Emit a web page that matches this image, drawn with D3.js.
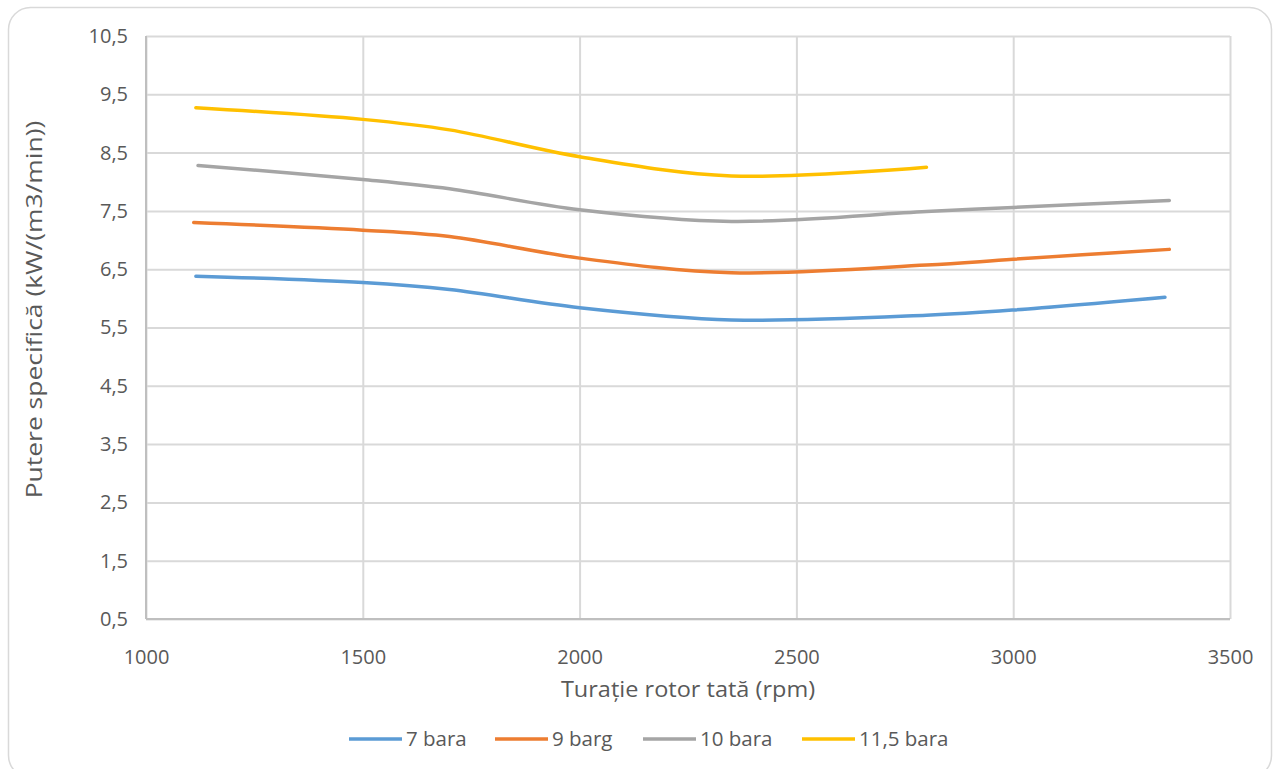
<!DOCTYPE html>
<html>
<head>
<meta charset="utf-8">
<script src="https://cdn.jsdelivr.net/npm/d3@7"></script>
<style>
  html, body { margin: 0; padding: 0; background: #fff; }
  svg { display: block; font-family: "Open Sans", sans-serif; }
</style>
</head>
<body>
<svg id="chart" width="1274" height="769"></svg>
<script>
// Specific power vs. male rotor speed, one series per discharge pressure
const seriesNames = ["7 bara", "9 barg", "10 bara", "11,5 bara"];
const seriesColors = ["#5b9bd5", "#ed7d31", "#a5a5a5", "#ffc000"];

const rpm7   = [1115, 1500, 1700, 2000, 2350, 2800, 3000, 3350];
const val7   = [6.38, 6.27, 6.15, 5.84, 5.63, 5.71, 5.80, 6.02];

const rpm9   = [1110, 1500, 1700, 2000, 2350, 2800, 3000, 3360];
const val9   = [7.30, 7.17, 7.06, 6.69, 6.44, 6.57, 6.67, 6.84];

const rpm10  = [1120, 1500, 1700, 2000, 2350, 2800, 3000, 3360];
const val10  = [8.28, 8.04, 7.88, 7.52, 7.32, 7.49, 7.56, 7.68];

const rpm115 = [1115, 1500, 1700, 2000, 2350, 2800];
const val115 = [9.27, 9.07, 8.89, 8.43, 8.10, 8.25];

const xTicks = [1000, 1500, 2000, 2500, 3000, 3500];
const yTicks = [0.5, 1.5, 2.5, 3.5, 4.5, 5.5, 6.5, 7.5, 8.5, 9.5, 10.5];

const xTitle = "Turație rotor tată (rpm)";
const yTitle = "Putere specifică (kW/(m3/min))";

const series = [
  { name: seriesNames[0], color: seriesColors[0], xs: rpm7,   ys: val7 },
  { name: seriesNames[1], color: seriesColors[1], xs: rpm9,   ys: val9 },
  { name: seriesNames[2], color: seriesColors[2], xs: rpm10,  ys: val10 },
  { name: seriesNames[3], color: seriesColors[3], xs: rpm115, ys: val115 }
];

const svg = d3.select("#chart");
const plot = { left: 146, right: 1230, top: 36, bottom: 619 };
const fmt = d => d.toString().replace(".", ",");
const textColor = "#595959";
const gridColor = "#d9d9d9";

// card outline
svg.append("rect")
  .attr("x", 8.5).attr("y", 7.5)
  .attr("width", 1263).attr("height", 770)
  .attr("rx", 22).attr("ry", 22)
  .attr("fill", "#fff")
  .attr("stroke", "#d9d9d9").attr("stroke-width", 1.5);

const x = d3.scaleLinear().domain([1000, 3500]).range([plot.left, plot.right]);
const y = d3.scaleLinear().domain([0.5, 10.5]).range([plot.bottom, plot.top]);

// gridlines
svg.append("g")
  .attr("transform", `translate(0,${plot.bottom})`)
  .call(d3.axisBottom(x).tickValues(xTicks).tickSize(-(plot.bottom - plot.top)).tickFormat(""))
  .call(g => g.select(".domain").remove())
  .call(g => g.selectAll("line").attr("stroke", gridColor).attr("stroke-width", 2));

svg.append("g")
  .attr("transform", `translate(${plot.left},0)`)
  .call(d3.axisLeft(y).tickValues(yTicks).tickSize(-(plot.right - plot.left)).tickFormat(""))
  .call(g => g.select(".domain").remove())
  .call(g => g.selectAll("line").attr("stroke", gridColor).attr("stroke-width", 2));

// axis lines
svg.append("line")
  .attr("x1", plot.left).attr("x2", plot.left)
  .attr("y1", plot.top).attr("y2", plot.bottom)
  .attr("stroke", "#bfbfbf").attr("stroke-width", 2);
svg.append("line")
  .attr("x1", plot.left).attr("x2", plot.right)
  .attr("y1", plot.bottom).attr("y2", plot.bottom)
  .attr("stroke", "#bfbfbf").attr("stroke-width", 2);

// tick labels
svg.append("g")
  .attr("transform", `translate(0,${plot.bottom})`)
  .call(d3.axisBottom(x).tickValues(xTicks).tickSize(0).tickPadding(31).tickFormat(d => d))
  .call(g => g.select(".domain").remove())
  .call(g => g.selectAll("text")
    .attr("fill", textColor).attr("font-size", 20).attr("font-family", "Open Sans, sans-serif"));

svg.append("g")
  .attr("transform", `translate(${plot.left},0)`)
  .call(d3.axisLeft(y).tickValues(yTicks).tickSize(0).tickPadding(18).tickFormat(fmt))
  .call(g => g.select(".domain").remove())
  .call(g => g.selectAll("text")
    .attr("fill", textColor).attr("font-size", 20).attr("font-family", "Open Sans, sans-serif"));

// axis titles (stretched along the reading direction)
svg.append("text")
  .attr("transform", `translate(${(plot.left + plot.right) / 2},697) scale(1.12,1)`)
  .attr("text-anchor", "middle")
  .attr("fill", textColor).attr("font-size", 21)
  .text(xTitle);

svg.append("text")
  .attr("transform", `translate(42,${(plot.top + plot.bottom) / 2 - 18}) rotate(-90) scale(1.26,1)`)
  .attr("text-anchor", "middle")
  .attr("fill", textColor).attr("font-size", 21)
  .text(yTitle);

// series curves
const line = d3.line()
  .x(d => x(d[0]))
  .y(d => y(d[1]))
  .curve(d3.curveCatmullRom.alpha(0.5));

svg.append("g").selectAll("path")
  .data(series)
  .join("path")
  .attr("d", s => line(s.xs.map((v, i) => [v, s.ys[i]])))
  .attr("fill", "none")
  .attr("stroke", s => s.color)
  .attr("stroke-width", 3.5)
  .attr("stroke-linecap", "round");

// legend
const legendX = [349, 495, 643, 802];
const legend = svg.append("g").selectAll("g")
  .data(series)
  .join("g")
  .attr("transform", (s, i) => `translate(${legendX[i]},739)`);
legend.append("line")
  .attr("x1", 0).attr("x2", 53)
  .attr("stroke", s => s.color).attr("stroke-width", 3.5);
legend.append("text")
  .attr("x", 57).attr("dy", "0.35em")
  .attr("fill", textColor).attr("font-size", 20.5)
  .text(s => s.name);
</script>
</body>
</html>
